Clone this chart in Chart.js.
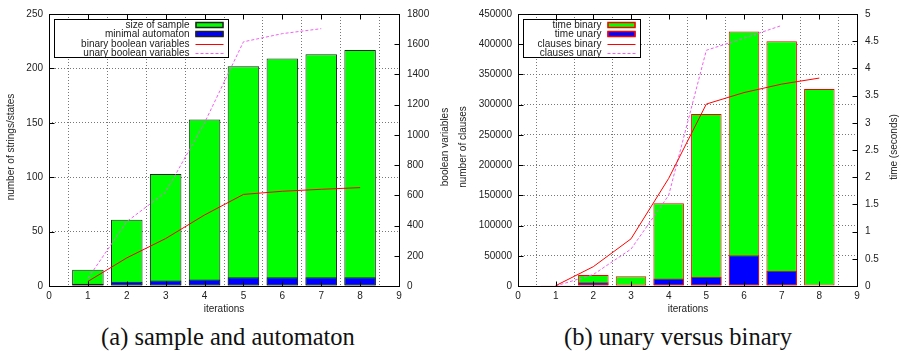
<!DOCTYPE html>
<html>
<head>
<meta charset="utf-8">
<script src="https://cdn.jsdelivr.net/npm/chart.js@4.4.0/dist/chart.umd.min.js"></script>
<style>
  body { margin: 0; background: #fff; }
  #page { position: relative; width: 901px; height: 351px; overflow: hidden; font-family: "Liberation Sans", Arial, sans-serif; color: #222; }
  .box { position: absolute; top: 0; height: 320px; }
  .ttl { position: absolute; width: 200px; height: 12px; line-height: 12px; font-size: 10px; text-align: center; white-space: nowrap; }
  .rot { transform: rotate(-90deg); }
  .cap { position: absolute; top: 324px; width: 400px; line-height: 26px; font-family: "Liberation Serif", "Times New Roman", serif; font-size: 24.5px; color: #111; text-align: center; white-space: nowrap; }
</style>
</head>
<body>
<div id="page">
  <div class="box" style="left:0;width:450px"><canvas id="chartA" width="450" height="320"></canvas></div>
  <div class="box" style="left:450px;width:451px"><canvas id="chartB" width="451" height="320"></canvas></div>

  <div class="ttl rot" style="left:-89px;top:141px">number of strings/states</div>
  <div class="ttl rot" style="left:345px;top:141px">boolean variables</div>
  <div class="ttl" style="left:124px;top:303px">iterations</div>
  <div class="ttl rot" style="left:363px;top:141px">number of clauses</div>
  <div class="ttl rot" style="left:794px;top:141px">time (seconds)</div>
  <div class="ttl" style="left:588px;top:303px">iterations</div>

  <div class="cap" style="left:28px">(a) sample and automaton</div>
  <div class="cap" style="left:478px">(b) unary versus binary</div>
</div>
<script>
var iterations = [1, 2, 3, 4, 5, 6, 7, 8];

// (a) sample and automaton
var sampleSize = [15, 61, 103, 153, 202, 209, 213, 217];
var automatonStates = [2, 4, 5, 6, 8, 8, 8, 8];
var binaryVars = [30, 186, 314, 470, 606, 627, 640, 651];
var unaryVars = [50, 426, 621, 1080, 1616, 1670, 1703, null];

// (b) unary versus binary
var timeBinary = [0.005, 0.2, 0.18, 1.52, 3.16, 4.68, 4.5, 3.62];
var timeUnary = [0, 0.07, 0.02, 0.14, 0.17, 0.565, 0.28, null];
var clausesBinary = [500, 32000, 78000, 178000, 301000, 320000, 334000, 344000];
var clausesUnary = [0, 19000, 61000, 150000, 390000, 410000, 431000, null];

var GREEN = '#00ff00', BLUE = '#0000ff', RED = '#ff0000', VIOLET = '#f060f0';

Chart.defaults.font.family = '"Liberation Sans", Arial, sans-serif';
Chart.defaults.font.size = 10;
Chart.defaults.color = '#222';

function pts(values) {
    return iterations.map(function(x, i) { return { x: x, y: values[i] }; });
}

function plain(v) { return String(v); }

// gnuplot style: black frame with inward ticks
var framePlugin = {
    id: 'frame',
    afterDatasetsDraw: function(chart) {
        var ctx = chart.ctx, a = chart.chartArea;
        var L = Math.round(a.left) + 0.5, R = Math.round(a.right) + 0.5;
        var T = Math.round(a.top) + 0.5, B = Math.round(a.bottom) + 0.5;
        ctx.save();
        ctx.strokeStyle = '#000';
        ctx.lineWidth = 1;
        ctx.beginPath();
        var sx = chart.scales.x;
        sx.ticks.forEach(function(t) {
            var p = Math.round(sx.getPixelForValue(t.value)) + 0.5;
            ctx.moveTo(p, B); ctx.lineTo(p, B - 5);
            ctx.moveTo(p, T); ctx.lineTo(p, T + 5);
        });
        var sy = chart.scales.y;
        sy.ticks.forEach(function(t) {
            var p = Math.round(sy.getPixelForValue(t.value)) + 0.5;
            ctx.moveTo(L, p); ctx.lineTo(L + 5, p);
        });
        var sy2 = chart.scales.y2;
        sy2.ticks.forEach(function(t) {
            var p = Math.round(sy2.getPixelForValue(t.value)) + 0.5;
            ctx.moveTo(R, p); ctx.lineTo(R - 5, p);
        });
        ctx.stroke();
        ctx.strokeRect(L, T, R - L, B - T);
        ctx.restore();
    }
};

// legend box in the upper left corner of the plot
var boxLegendPlugin = {
    id: 'boxLegend',
    afterDraw: function(chart, args, opts) {
        var ctx = chart.ctx, a = chart.chartArea;
        var bx = Math.round(a.left + 5) + 0.5, by = Math.round(a.top + 4.5) + 0.5;
        var w = opts.width, h = 38;
        ctx.save();
        ctx.fillStyle = '#fff';
        ctx.fillRect(bx, by, w, h);
        ctx.strokeStyle = '#000';
        ctx.lineWidth = 1;
        ctx.strokeRect(bx, by, w, h);
        ctx.font = '10px "Liberation Sans", Arial, sans-serif';
        ctx.textAlign = 'right';
        ctx.textBaseline = 'middle';
        var s0 = bx + w - 33, s1 = bx + w - 5;
        chart.data.datasets.forEach(function(ds, i) {
            var cy = Math.round(by + 5 + i * 9.6);
            ctx.fillStyle = '#222';
            ctx.fillText(ds.label, s0 - 6, cy);
            if (ds.type === 'bar') {
                ctx.fillStyle = ds.backgroundColor;
                ctx.fillRect(s0, cy - 2.5, s1 - s0, 5);
                ctx.strokeStyle = ds.borderColor;
                ctx.lineWidth = 1.5;
                ctx.strokeRect(s0 + 0.5, cy - 2.5, s1 - s0 - 1, 5);
            } else {
                ctx.strokeStyle = ds.borderColor;
                ctx.lineWidth = 1;
                ctx.setLineDash(ds.borderDash || []);
                ctx.beginPath();
                ctx.moveTo(s0, cy + 0.5);
                ctx.lineTo(s1, cy + 0.5);
                ctx.stroke();
                ctx.setLineDash([]);
            }
        });
        ctx.restore();
    }
};

function makeOptions(leftW, rightW, yMax, yStep, y2Max, y2Step, legendW) {
    var gridStyle = { color: '#777', lineWidth: 1, drawTicks: false };
    return {
        responsive: false,
        animation: false,
        layout: { padding: { top: 8, left: 0, right: 0, bottom: 0 } },
        plugins: {
            legend: { display: false },
            tooltip: { enabled: false },
            boxLegend: { width: legendW }
        },
        scales: {
            x: {
                type: 'linear', min: 0, max: 9, offset: false,
                ticks: { stepSize: 1, padding: 4, callback: plain },
                grid: gridStyle,
                border: { display: false, dash: [1, 2] },
                afterFit: function(s) { s.height = 34; }
            },
            y: {
                position: 'left', min: 0, max: yMax,
                ticks: { stepSize: yStep, padding: 6, callback: plain },
                grid: gridStyle,
                border: { display: false, dash: [1, 2] },
                afterFit: function(s) { s.width = leftW; }
            },
            y2: {
                position: 'right', min: 0, max: y2Max,
                ticks: { stepSize: y2Step, padding: 8, callback: plain },
                grid: { drawOnChartArea: false, drawTicks: false },
                border: { display: false },
                afterFit: function(s) { s.width = rightW; }
            }
        }
    };
}

function barSet(label, values, fill, edge, axis, order) {
    return {
        type: 'bar', label: label, data: pts(values), yAxisID: axis,
        backgroundColor: fill, borderColor: edge, borderWidth: 1,
        borderSkipped: false, grouped: false,
        barPercentage: 0.81, categoryPercentage: 1, order: order
    };
}

function lineSet(label, values, color, dash, axis) {
    return {
        type: 'line', label: label, data: pts(values), yAxisID: axis,
        borderColor: color, borderWidth: 1, borderDash: dash,
        pointRadius: 0, tension: 0, fill: false, order: 0
    };
}

var configA = {
    type: 'bar',
    data: {
        datasets: [
            barSet('size of sample', sampleSize, GREEN, '#222', 'y', 2),
            barSet('minimal automaton', automatonStates, BLUE, '#222', 'y', 1),
            lineSet('binary boolean variables', binaryVars, RED, [], 'y2'),
            lineSet('unary boolean variables', unaryVars, VIOLET, [3, 2], 'y2')
        ]
    },
    options: makeOptions(49, 51, 250, 50, 1800, 200, 174),
    plugins: [framePlugin, boxLegendPlugin]
};

var configB = {
    type: 'bar',
    data: {
        datasets: [
            barSet('time binary', timeBinary, GREEN, RED, 'y2', 2),
            barSet('time unary', timeUnary, BLUE, RED, 'y2', 1),
            lineSet('clauses binary', clausesBinary, RED, [], 'y'),
            lineSet('clauses unary', clausesUnary, VIOLET, [3, 2], 'y')
        ]
    },
    options: makeOptions(68, 44, 450000, 50000, 5, 0.5, 117),
    plugins: [framePlugin, boxLegendPlugin]
};

window.onload = function() {
    window.chartA = new Chart(document.getElementById('chartA'), configA);
    window.chartB = new Chart(document.getElementById('chartB'), configB);
};
</script>
</body>
</html>
